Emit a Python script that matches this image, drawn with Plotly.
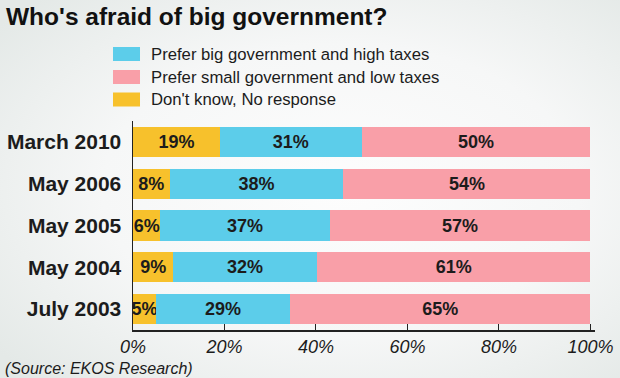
import base64
import plotly.graph_objects as go

# ---- data ----
periods = ["March 2010", "May 2006", "May 2005", "May 2004", "July 2003"]
dont_know = [19, 8, 6, 9, 5]
big_gov = [31, 38, 37, 32, 29]
small_gov = [50, 54, 57, 61, 65]
series_names = ["Prefer big government and high taxes",
                "Prefer small government and low taxes",
                "Don't know, No response"]
tick_vals = [0, 20, 40, 60, 80, 100]
tick_text = ["0%", "20%", "40%", "60%", "80%", "100%"]
title_text = "Who's afraid of big government?"
source_text = "(Source: EKOS Research)"

# ---- style ----
C_BLUE = "#5ccdea"
C_PINK = "#f99fa8"
C_YELLOW = "#f7c12c"
TXT = "#1c1c1c"
FONT = "Liberation Sans, Arial, sans-serif"

fig = go.Figure()


def add(vals, color, name):
    fig.add_trace(go.Bar(
        y=periods, x=vals, orientation="h", name=name,
        marker=dict(color=color, line=dict(width=0)),
        text=[f"{v}%" for v in vals], texttemplate="%{text}",
        textposition="inside", insidetextanchor="middle", textangle=0,
        constraintext="none",
        textfont=dict(family=FONT, size=18, color=TXT, weight="bold"),
        showlegend=False, hoverinfo="skip",
    ))


add(dont_know, C_YELLOW, series_names[2])
add(big_gov, C_BLUE, series_names[0])
add(small_gov, C_PINK, series_names[1])

W, H = 620, 378
L, R, T, B = 133, 25.4, 121, 48

# soft radial background like the reference
svg = (f'<svg xmlns="http://www.w3.org/2000/svg" width="{W}" height="{H}">'
       '<defs><radialGradient id="g" cx="55%" cy="50%" r="70%">'
       '<stop offset="0" stop-color="#fdfdfd"/><stop offset="0.55" stop-color="#f6f7f7"/>'
       '<stop offset="1" stop-color="#e4e9e7"/></radialGradient></defs>'
       f'<rect width="{W}" height="{H}" fill="url(#g)"/></svg>')
bg_src = "data:image/svg+xml;base64," + base64.b64encode(svg.encode()).decode()

fig.update_layout(
    width=W, height=H,
    margin=dict(l=L, r=R, t=T, b=B, pad=0, autoexpand=False),
    barmode="stack", barnorm="percent", bargap=0.28,
    paper_bgcolor="#f1f3f2", plot_bgcolor="rgba(0,0,0,0)",
    font=dict(family=FONT, color=TXT),
    uniformtext=dict(mode=False),
    images=[dict(source=bg_src, xref="paper", yref="paper",
                 x=-L / (W - L - R), y=1 + T / (H - T - B),
                 sizex=W / (W - L - R), sizey=H / (H - T - B),
                 xanchor="left", yanchor="top", sizing="stretch", layer="below")],
    title=dict(text=title_text, x=6 / W, xanchor="left", xref="container",
               y=1 - 16 / H, yanchor="middle", yref="container",
               font=dict(family=FONT, size=24.5, color="#111111", weight="bold")),
    xaxis=dict(range=[0, 101], tickvals=tick_vals, ticktext=tick_text,
               showgrid=False, zeroline=False, showline=True, linecolor="#222222",
               linewidth=1.5, ticks="inside", ticklen=6, tickcolor="#222222",
               tickfont=dict(family=FONT, size=18, color=TXT, style="italic"),
               ticklabelstandoff=0, fixedrange=True),
    yaxis=dict(autorange="reversed", showgrid=False, zeroline=False,
               showline=True, linecolor="#222222", linewidth=1.5, ticks="",
               tickfont=dict(family=FONT, size=21, color=TXT, weight="bold"),
               ticklabelstandoff=6, fixedrange=True),
)

# custom legend (swatches + labels)
legend_colors = [C_BLUE, C_PINK, C_YELLOW]
legend_y = [54, 77, 99.5]
for name, col, yc in zip(series_names, legend_colors, legend_y):
    fig.add_shape(type="rect", xref="paper", yref="paper",
                  x0=(113 - L) / (W - L - R), x1=(140 - L) / (W - L - R),
                  y0=(H - B - (yc + 7)) / (H - T - B), y1=(H - B - (yc - 7)) / (H - T - B),
                  fillcolor=col, line=dict(width=0))
    fig.add_annotation(text=name, xref="paper", yref="paper",
                       x=(149 - L) / (W - L - R), xanchor="left",
                       y=(H - B - yc) / (H - T - B), yanchor="middle",
                       showarrow=False,
                       font=dict(family=FONT, size=16.7, color=TXT))

fig.add_annotation(text=source_text, xref="paper", yref="paper",
                   x=(3 - L) / (W - L - R), xanchor="left",
                   y=(H - B - 368) / (H - T - B), yanchor="middle",
                   showarrow=False,
                   font=dict(family=FONT, size=16, color=TXT, style="italic"))

fig.write_html("out.html",
               config={"displayModeBar": False, "staticPlot": True},
               post_script="document.body.style.margin='0';"
                           "document.body.style.overflow='hidden';")
